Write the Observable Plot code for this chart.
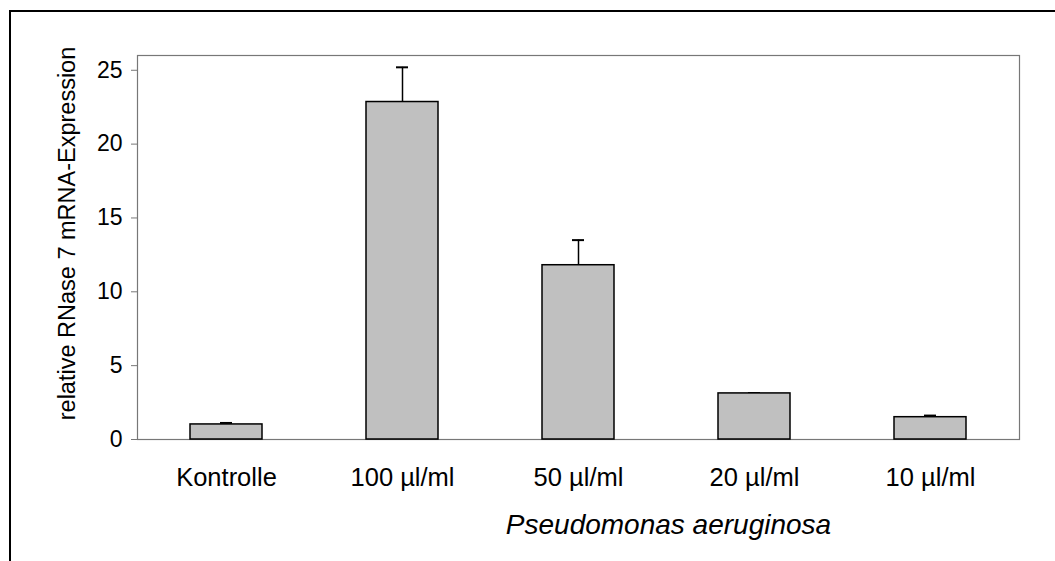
<!DOCTYPE html>
<html>
<head>
<meta charset="utf-8">
<script src="https://cdn.jsdelivr.net/npm/d3@7"></script>
<script src="https://cdn.jsdelivr.net/npm/@observablehq/plot@0.6"></script>
<style>
  html, body { margin: 0; padding: 0; background: #fff; }
  #wrap { position: relative; width: 1055px; height: 561px; overflow: hidden; }
  #frame { position: absolute; left: 9px; top: 10px; width: 1046px; height: 551px;
           border-top: 2px solid #000; border-left: 2px solid #000; box-sizing: border-box; pointer-events: none; }
  #chart { position: absolute; left: 0; top: 0; }
</style>
</head>
<body>
<div id="wrap"><div id="chart"></div><div id="frame"></div></div>
<script>
const categories = ["Kontrolle", "100 µl/ml", "50 µl/ml", "20 µl/ml", "10 µl/ml"];
const means = [1.02, 22.85, 11.8, 3.12, 1.51];
const errors = [0.1, 2.35, 1.7, 0.03, 0.11];
const yTicks = [0, 5, 10, 15, 20, 25];
const yLabel = "relative RNase 7 mRNA-Expression";
const xTitle = "Pseudomonas aeruginosa";

const data = categories.map((c, i) => ({cat: c, mean: means[i], top: means[i] + errors[i]}));
const font = "'Liberation Sans', Arial, sans-serif";

const chart = Plot.plot({
  width: 1055,
  height: 561,
  marginLeft: 137,
  marginRight: 36,
  marginTop: 55,
  marginBottom: 122,
  style: {fontFamily: font, background: "transparent", overflow: "visible"},
  x: {domain: categories, paddingInner: 0.59, paddingOuter: 0.295, label: null},
  y: {domain: [0, 26], label: null},
  marks: [
    Plot.frame({stroke: "#777", strokeWidth: 1.2}),
    Plot.axisY({ticks: yTicks, tickSize: 6, tickPadding: 9, fontSize: 23, stroke: "#777", color: "#000", label: null}),
    Plot.axisX({tickSize: 0, tickPadding: 28, fontSize: 25.5, label: null, color: "#000"}),
    Plot.ruleX(data, {x: "cat", y1: "mean", y2: "top", stroke: "#000", strokeWidth: 1.5}),
    Plot.tickY(data, {x: "cat", y: "top", stroke: "#000", strokeWidth: 2, insetLeft: 30, insetRight: 30}),
    Plot.barY(data, {x: "cat", y: "mean", fill: "#c0c0c0", stroke: "#000", strokeWidth: 1.5}),
    Plot.text([yLabel], {frameAnchor: "left", textAnchor: "middle", dx: -70, dy: -14, rotate: -90, fontSize: 23.5, fill: "#000", text: d => d}),
    Plot.text([xTitle], {frameAnchor: "bottom", textAnchor: "middle", dx: 90, dy: 94, fontSize: 28, fontStyle: "italic", fill: "#000", text: d => d})
  ]
});
document.getElementById("chart").appendChild(chart);
</script>
</body>
</html>
